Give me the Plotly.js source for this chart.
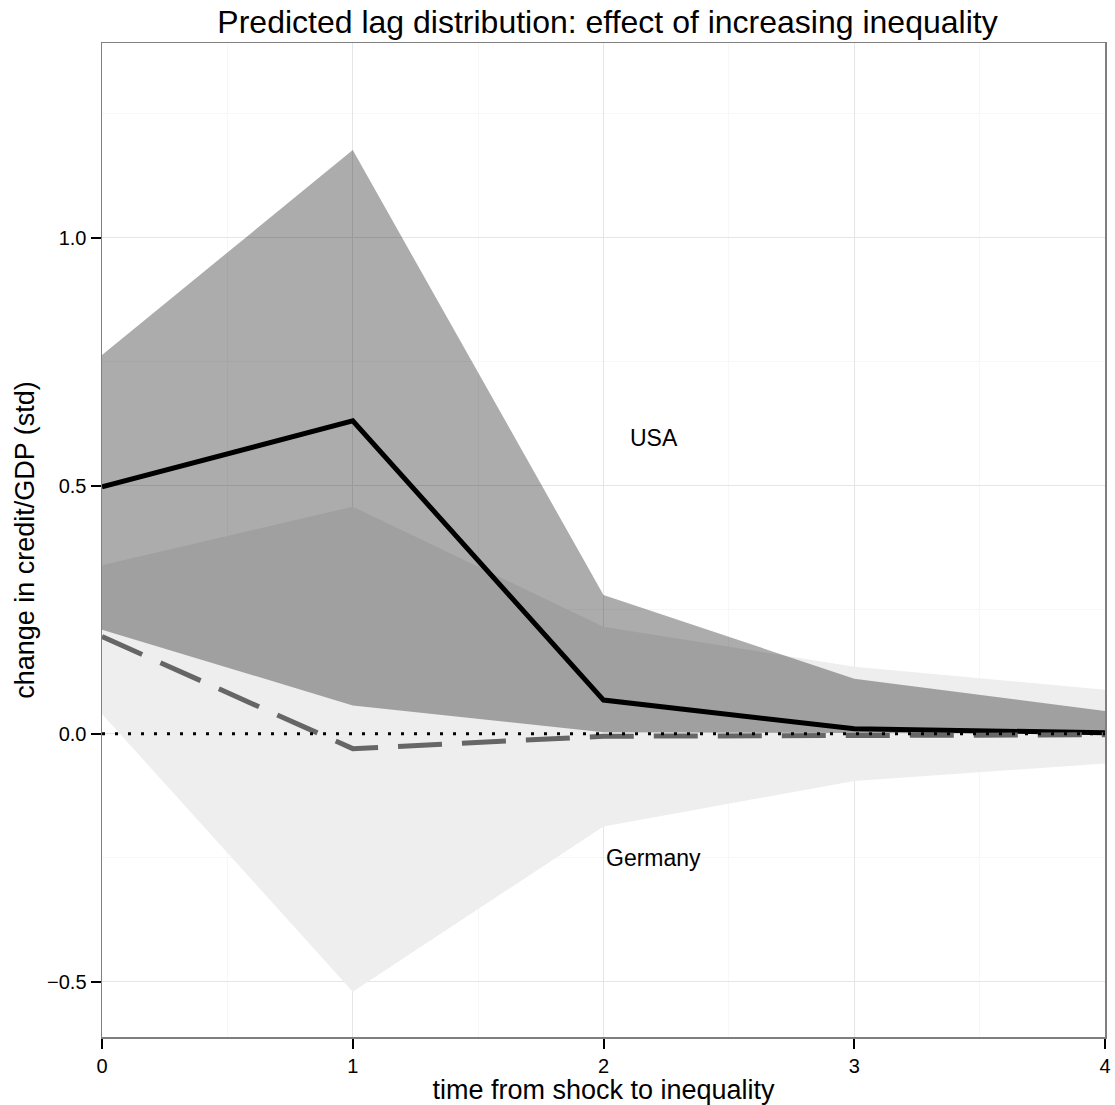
<!DOCTYPE html>
<html>
<head>
<meta charset="utf-8">
<script src="https://cdn.plot.ly/plotly-3.0.1.min.js"></script>
<style>html,body{margin:0;padding:0;background:#fff;}#chart{width:1115px;height:1105px;}</style>
</head>
<body>
<div id="chart"></div>
<script>
// Data
var lags = [0, 1, 2, 3, 4];
var usaEffect = [0.498, 0.631, 0.068, 0.010, 0.002];
var usaUpper = [0.764, 1.177, 0.280, 0.111, 0.046];
var usaLower = [0.210, 0.057, 0.003, 0.001, 0.000];
var germanyEffect = [0.196, -0.030, -0.005, -0.003, -0.002];
var germanyUpper = [0.340, 0.458, 0.216, 0.135, 0.089];
var germanyLower = [0.040, -0.520, -0.187, -0.095, -0.060];
var zeroRef = [0, 0, 0, 0, 0];
var labels = [
  {text: "USA", x: 2.2, y: 0.597},
  {text: "Germany", x: 2.2, y: -0.25}
];

var traces = [
  {x: lags, y: germanyLower, mode: "lines", line: {width: 0}, hoverinfo: "skip", showlegend: false},
  {x: lags, y: germanyUpper, mode: "lines", line: {width: 0}, fill: "tonexty", fillcolor: "#EEEEEE", hoverinfo: "skip", showlegend: false},
  {x: lags, y: usaLower, mode: "lines", line: {width: 0}, hoverinfo: "skip", showlegend: false},
  {x: lags, y: usaUpper, mode: "lines", line: {width: 0}, fill: "tonexty", fillcolor: "rgba(0,0,0,0.325)", hoverinfo: "skip", showlegend: false},
  {x: lags, y: usaEffect, mode: "lines", line: {color: "#000000", width: 5}, showlegend: false, name: "USA"},
  {x: lags, y: germanyEffect, mode: "lines", line: {color: "#666666", width: 5, dash: "44px,20px"}, showlegend: false, name: "Germany"},
  {x: lags, y: zeroRef, mode: "lines", line: {color: "#000000", width: 3, dash: "3px,10px"}, showlegend: false, hoverinfo: "skip"}
];

var layout = {
  width: 1115, height: 1105,
  margin: {l: 102, r: 10, t: 43, b: 68},
  paper_bgcolor: "#ffffff", plot_bgcolor: "#ffffff",
  font: {family: "Liberation Sans, Arial, sans-serif", color: "#000"},
  title: {text: "Predicted lag distribution: effect of increasing inequality", font: {size: 32, color: "#000"}, x: 0.504, xanchor: "center", xref: "paper", y: 0.98, yanchor: "middle"},
  xaxis: {
    range: [0, 4], tickvals: [0, 1, 2, 3, 4], ticktext: ["0", "1", "2", "3", "4"],
    ticks: "outside", ticklen: 10, tickwidth: 2, tickcolor: "#000",
    tickfont: {size: 20, color: "#000"},
    showgrid: true, gridcolor: "#E5E5E5", gridwidth: 1,
    minor: {dtick: 0.5, showgrid: true, gridcolor: "#F7F7F7", ticks: ""},
    showline: true, linecolor: "#7F7F7F", linewidth: 1.5, mirror: true,
    zeroline: false,
    title: {text: "time from shock to inequality", font: {size: 27, color: "#000"}, standoff: 2}
  },
  yaxis: {
    range: [-0.6115, 1.393], tickvals: [-0.5, 0, 0.5, 1.0], tickformat: ".1f",
    ticks: "outside", ticklen: 10, tickwidth: 2, tickcolor: "#000",
    tickfont: {size: 20, color: "#000"},
    showgrid: true, gridcolor: "#E5E5E5", gridwidth: 1,
    minor: {dtick: 0.25, tick0: 0, showgrid: true, gridcolor: "#F7F7F7", ticks: ""},
    showline: true, linecolor: "#7F7F7F", linewidth: 1.5, mirror: true,
    zeroline: false,
    title: {text: "change in credit/GDP (std)", font: {size: 27, color: "#000"}, standoff: 4}
  },
  annotations: labels.map(function (l) {
    return {text: l.text, x: l.x, y: l.y, xref: "x", yref: "y", showarrow: false, font: {size: 23, color: "#000"}};
  })
};

Plotly.newPlot("chart", traces, layout, {displayModeBar: false, staticPlot: true});
</script>
</body>
</html>
